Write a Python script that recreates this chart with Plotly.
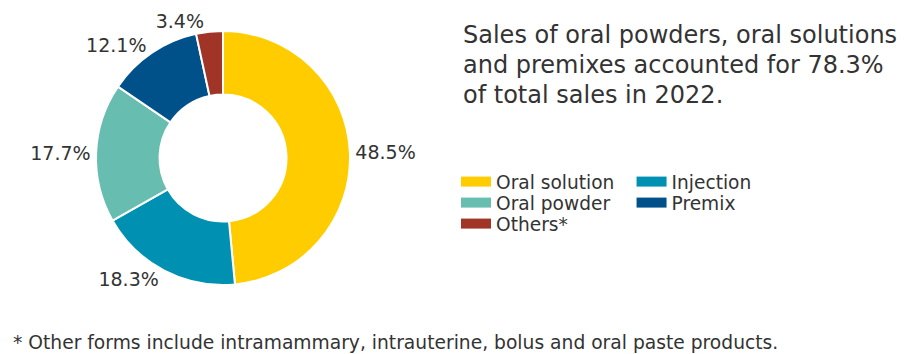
import plotly.graph_objects as go

categories = ["Oral solution", "Injection", "Oral powder", "Premix", "Others*"]
values = [48.5, 18.3, 17.7, 12.1, 3.4]
colors = ["#FFCC00", "#0090B2", "#66BDB0", "#00508A", "#A03426"]

title_lines = [
    "Sales of oral powders, oral solutions",
    "and premixes accounted for 78.3%",
    "of total sales in 2022.",
]
footnote = "* Other forms include intramammary, intrauterine, bolus and oral paste products."

# legend layout: which legend row each category goes in (2 columns)
legend_rows = ["legend", "legend", "legend2", "legend2", "legend3"]

W, H = 924, 354
FONT = "DejaVu Sans"
TXT = "#333333"

cx, cy, r = 223, 158, 127

fig = go.Figure()
fig.add_trace(go.Pie(
    labels=categories,
    values=values,
    sort=False,
    direction="clockwise",
    rotation=0,
    hole=0.5,
    marker=dict(colors=colors, line=dict(color="white", width=2)),
    texttemplate="%{value:.1f}%",
    textposition="outside",
    textfont=dict(family=FONT, size=19, color=TXT),
    hoverinfo="label+value",
    showlegend=False,
    domain=dict(x=[(cx - r) / W, (cx + r) / W], y=[1 - (cy + r) / H, 1 - (cy - r) / H]),
))

# legend entries (wide colour bars like the original key)
for cat, col, lg in zip(categories, colors, legend_rows):
    fig.add_trace(go.Scatter(
        x=[None], y=[None], mode="lines", name=cat,
        line=dict(color=col, width=10),
        legend=lg, showlegend=True, hoverinfo="skip",
    ))

annotations = []
for i, line in enumerate(title_lines):
    annotations.append(dict(
        text=line, x=461 / W, y=1 - (35 + 30 * i) / H, xref="paper", yref="paper",
        xanchor="left", yanchor="middle", showarrow=False,
        font=dict(family=FONT, size=24, color=TXT),
    ))
annotations.append(dict(
    text=footnote, x=11 / W, y=1 - 342 / H, xref="paper", yref="paper",
    xanchor="left", yanchor="middle", showarrow=False,
    font=dict(family=FONT, size=18.7, color=TXT),
))

legend_common = dict(
    orientation="h", x=456 / W, xanchor="left", yanchor="middle",
    xref="paper", yref="paper",
    entrywidth=0.19, entrywidthmode="fraction",
    bgcolor="rgba(0,0,0,0)",
    font=dict(family=FONT, size=18.6, color=TXT),
    tracegroupgap=0, itemclick=False, itemdoubleclick=False,
)

fig.update_layout(
    width=W, height=H,
    margin=dict(l=0, r=0, t=0, b=0, autoexpand=False),
    paper_bgcolor="white", plot_bgcolor="white",
    xaxis=dict(visible=False), yaxis=dict(visible=False),
    legend=dict(legend_common, y=1 - 182 / H),
    legend2=dict(legend_common, y=1 - 203 / H),
    legend3=dict(legend_common, y=1 - 224 / H),
    annotations=annotations,
)

fig.write_html("out.html")
